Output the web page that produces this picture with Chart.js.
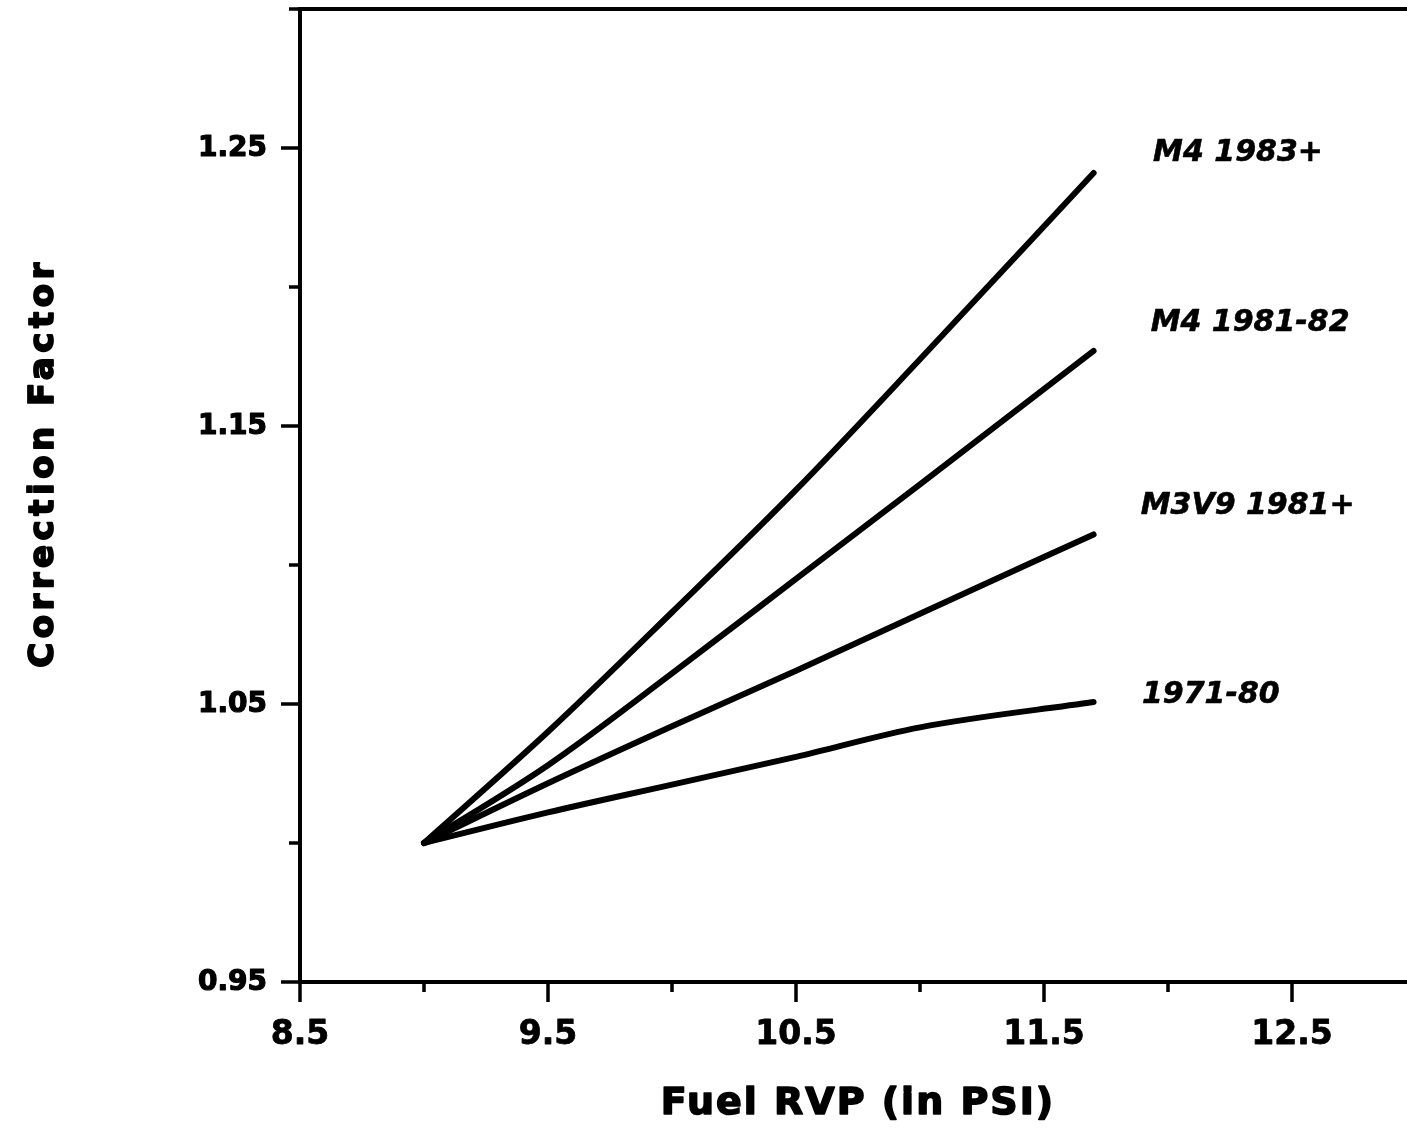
<!DOCTYPE html>
<html lang="en">
  <head>
    <meta charset="UTF-8" />
    <title>Correction Factor vs Fuel RVP</title>
    <script src="https://cdn.jsdelivr.net/npm/chart.js@4.4.1/dist/chart.umd.min.js"></script>
    <style>
      html,
      body {
        margin: 0;
        padding: 0;
        background: #fff;
        overflow: hidden;
      }
      #chart {
        display: block;
      }
    </style>
  </head>
  <body>
    <canvas id="chart" width="1420" height="1140"></canvas>
    <script>
      // fuel RVP (psi) where the curves are read
      const rvp = [9.0, 9.5, 10.0, 10.5, 11.0, 11.7];

      const seriesNames = ["M4 1983+", "M4 1981-82", "M3V9 1981+", "1971-80"];
      const m4_1983 = [1.0, 1.04, 1.083, 1.127, 1.174, 1.241];
      const m4_1981 = [1.0, 1.028, 1.061, 1.095, 1.129, 1.177];
      const m3v9_1981 = [1.0, 1.0215, 1.042, 1.062, 1.0825, 1.111];
      const y1971_80 = [1.0, 1.011, 1.021, 1.031, 1.0416, 1.0507];
      const seriesValues = [m4_1983, m4_1981, m3v9_1981, y1971_80];

      const xMajorTicks = [8.5, 9.5, 10.5, 11.5, 12.5];
      const xMinorTicks = [9.0, 10.0, 11.0, 12.0, 13.0];
      const yMajorTicks = [0.95, 1.05, 1.15, 1.25];
      const yMinorTicks = [1.0, 1.1, 1.2, 1.3];

      // where each series name is written (data units)
      const nameAtX = [11.94, 11.93, 11.89, 11.895];
      const nameAtY = [1.248, 1.187, 1.121, 1.053];

      const FONT = '"DejaVu Sans", "Liberation Sans", sans-serif';

      // the scanned original uses a heavy face, so fatten the glyphs a bit
      function heavyText(ctx, text, x, y, w) {
        ctx.fillText(text, x, y);
        if (w) {
          ctx.lineWidth = w;
          ctx.lineJoin = "round";
          ctx.strokeText(text, x, y);
        }
      }

      // axes frame, tick marks and all text
      const frame = {
        id: "frame",
        afterDraw(chart) {
          const { ctx, chartArea: a } = chart;
          const x = chart.scales.x;
          const y = chart.scales.y;
          ctx.save();
          ctx.strokeStyle = "#000";
          ctx.fillStyle = "#000";
          ctx.lineWidth = 4;
          ctx.lineCap = "butt";
          ctx.beginPath();
          ctx.moveTo(a.left - 2, a.top);
          ctx.lineTo(a.right, a.top);
          ctx.moveTo(a.left, a.top - 2);
          ctx.lineTo(a.left, a.bottom);
          ctx.moveTo(a.left - 2, a.bottom);
          ctx.lineTo(a.right, a.bottom);
          ctx.stroke();

          ctx.lineWidth = 3.5;
          ctx.beginPath();
          for (const v of xMajorTicks) {
            const px = x.getPixelForValue(v);
            ctx.moveTo(px, a.bottom);
            ctx.lineTo(px, a.bottom + 20);
          }
          for (const v of xMinorTicks) {
            const px = x.getPixelForValue(v);
            ctx.moveTo(px, a.bottom);
            ctx.lineTo(px, a.bottom + 10);
          }
          for (const v of yMajorTicks) {
            const py = y.getPixelForValue(v);
            ctx.moveTo(a.left, py);
            ctx.lineTo(a.left - 19, py);
          }
          for (const v of yMinorTicks) {
            const py = y.getPixelForValue(v);
            ctx.moveTo(a.left, py);
            ctx.lineTo(a.left - 11, py);
          }
          ctx.stroke();

          // tick labels
          ctx.font = "bold 28px " + FONT;
          ctx.textAlign = "right";
          ctx.textBaseline = "middle";
          for (const v of yMajorTicks) {
            heavyText(ctx, v.toFixed(2), a.left - 33, y.getPixelForValue(v) + 1, 1.2);
          }
          ctx.font = "bold 33px " + FONT;
          ctx.textAlign = "center";
          for (const v of xMajorTicks) {
            heavyText(ctx, v.toFixed(1), x.getPixelForValue(v), a.bottom + 53, 0.8);
          }

          // series names
          ctx.font = "italic bold 30px " + FONT;
          ctx.textAlign = "left";
          seriesNames.forEach((name, i) => {
            heavyText(
              ctx,
              name,
              x.getPixelForValue(nameAtX[i]),
              y.getPixelForValue(nameAtY[i]),
              0.6
            );
          });

          // axis titles
          ctx.font = "bold 38px " + FONT;
          ctx.letterSpacing = "2px";
          ctx.textAlign = "center";
          heavyText(ctx, "Fuel RVP (in PSI)", 858, 1104, 1.6);

          ctx.font = "bold 34px " + FONT;
          ctx.letterSpacing = "4.5px";
          ctx.translate(44, 463);
          ctx.rotate(-Math.PI / 2);
          heavyText(ctx, "Correction Factor", 0, 0, 1.8);
          ctx.restore();
        },
      };

      const ctx = document.getElementById("chart").getContext("2d");

      new Chart(ctx, {
        type: "line",
        data: {
          datasets: seriesNames.map((name, i) => ({
            label: name,
            data: rvp.map((v, j) => ({ x: v, y: seriesValues[i][j] })),
            borderColor: "#000",
            borderWidth: 6,
            borderCapStyle: "round",
            borderJoinStyle: "round",
            cubicInterpolationMode: "monotone",
            pointRadius: 0,
            fill: false,
          })),
        },
        options: {
          responsive: false,
          animation: false,
          layout: { padding: { top: 9, right: 4, left: 0, bottom: 0 } },
          plugins: {
            legend: { display: false },
            tooltip: { enabled: false },
          },
          scales: {
            x: {
              type: "linear",
              min: 8.5,
              max: 13.0,
              grid: { display: false },
              border: { display: false },
              ticks: { display: false },
              afterFit(scale) {
                scale.height = 158;
              },
            },
            y: {
              type: "linear",
              min: 0.95,
              max: 1.3,
              grid: { display: false },
              border: { display: false },
              ticks: { display: false },
              afterFit(scale) {
                scale.width = 300;
              },
            },
          },
        },
        plugins: [frame],
      });
    </script>
  </body>
</html>
